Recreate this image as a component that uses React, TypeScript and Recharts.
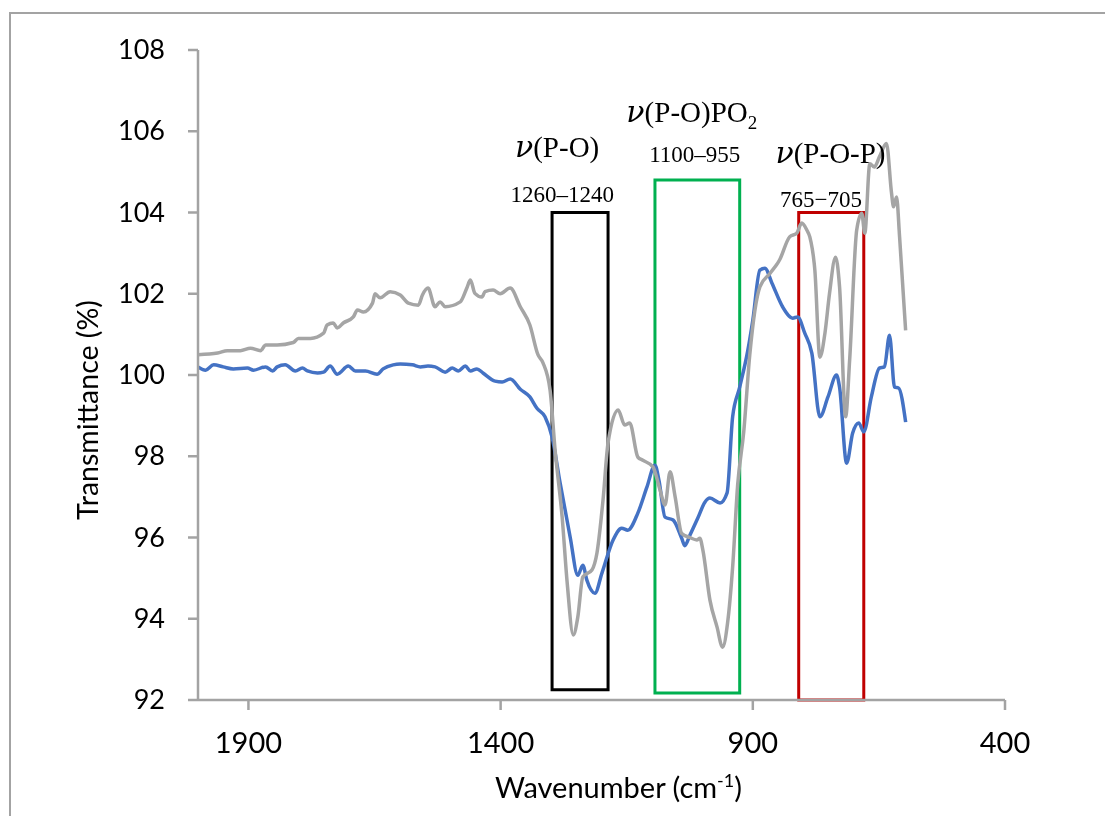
import React from 'react';
import { LineChart, Line, XAxis, YAxis, ReferenceArea, ReferenceDot } from 'recharts';

// Wavenumber (cm-1) and transmittance (%) of the grey spectrum
const grayWavenumber = [
  2000, 1961, 1942, 1916, 1896, 1876, 1866, 1843, 1811, 1801, 1777, 1751, 1744, 1732, 1724, 1712,
  1692, 1684, 1672, 1654, 1649, 1639, 1619, 1599, 1583, 1563, 1555, 1544, 1530, 1520, 1510, 1480,
  1467, 1460, 1451, 1437, 1431, 1415, 1401, 1381, 1361, 1342, 1326, 1316, 1302, 1292, 1278, 1268,
  1256, 1247, 1237, 1219, 1209, 1197, 1187, 1167, 1154, 1144, 1128, 1118, 1098, 1084, 1074, 1064,
  1054, 1041, 1025, 1011, 1005, 999, 985, 971, 960, 950, 940, 930, 918, 906, 886, 866,
  847, 827, 813, 803, 793, 787, 777, 767, 757, 748, 736, 728, 716, 708, 694, 684,
  678, 668, 659, 649, 635, 625, 621, 615, 609, 597,
];
const grayTransmittance = [
  100.5, 100.54, 100.6, 100.6, 100.66, 100.6, 100.74, 100.74, 100.8, 100.9, 100.9, 101.03, 101.23, 101.28, 101.16, 101.28,
  101.43, 101.6, 101.55, 101.77, 102.0, 101.9, 102.05, 101.97, 101.77, 101.72, 101.97, 102.14, 101.68, 101.8, 101.68, 101.8,
  102.14, 102.34, 102.01, 101.92, 102.05, 102.09, 102.0, 102.14, 101.68, 101.23, 100.5, 100.3, 99.63, 98.15, 96.5, 94.88,
  93.6, 94.04, 95.03, 95.2, 95.62, 96.92, 98.33, 99.14, 98.77, 98.82, 97.98, 97.9, 97.74, 97.17, 96.8, 97.62,
  97.0, 96.1, 96.0, 95.94, 95.98, 95.69, 94.46, 93.8, 93.3, 93.9, 95.27, 97.3, 98.6, 100.5, 102.17, 102.5,
  102.83, 103.4, 103.49, 103.74, 103.57, 103.4, 102.58, 100.44, 101.03, 102.0, 102.9, 102.17, 98.97, 100.37, 103.57, 103.98,
  103.49, 105.2, 105.12, 105.37, 105.7, 104.48, 104.14, 104.38, 103.4, 101.1,
];

// Wavenumber (cm-1) and transmittance (%) of the blue spectrum
const blueWavenumber = [
  2000, 1985, 1969, 1950, 1930, 1902, 1890, 1866, 1852, 1843, 1827, 1807, 1793, 1783, 1763, 1751,
  1738, 1724, 1702, 1688, 1668, 1645, 1633, 1613, 1599, 1575, 1559, 1544, 1530, 1510, 1496, 1484,
  1470, 1460, 1447, 1435, 1411, 1397, 1381, 1361, 1342, 1328, 1312, 1298, 1282, 1262, 1247, 1237,
  1229, 1213, 1199, 1177, 1160, 1148, 1128, 1110, 1094, 1086, 1074, 1058, 1041, 1035, 1025, 1009,
  995, 985, 965, 951, 940, 926, 910, 900, 886, 876, 862, 841, 821, 811, 797, 783,
  767, 751, 734, 728, 714, 702, 690, 680, 665, 649, 639, 629, 619, 611, 597,
];
const blueTransmittance = [
  100.2, 100.12, 100.25, 100.2, 100.15, 100.17, 100.12, 100.2, 100.1, 100.2, 100.25, 100.1, 100.17, 100.1, 100.05, 100.07,
  100.22, 100.02, 100.22, 100.1, 100.1, 100.02, 100.15, 100.25, 100.27, 100.25, 100.2, 100.22, 100.2, 100.07, 100.17, 100.1,
  100.22, 100.1, 100.15, 100.05, 99.85, 99.83, 99.9, 99.65, 99.46, 99.18, 98.97, 98.47, 97.34, 96.0, 95.07, 95.32,
  94.95, 94.63, 95.13, 95.94, 96.23, 96.18, 96.6, 97.24, 97.78, 97.4, 96.5, 96.43, 95.98, 95.8, 96.05, 96.48,
  96.87, 96.97, 96.85, 97.1, 98.97, 99.7, 100.6, 101.35, 102.58, 102.63, 102.26, 101.68, 101.4, 101.43, 101.03, 100.54,
  98.97, 99.46, 100.0, 99.7, 97.83, 98.57, 98.82, 98.6, 99.46, 100.17, 100.2, 100.98, 99.7, 99.68, 98.84,
];

const xTicks = [1900, 1400, 900, 400];
const yTicks = [92, 94, 96, 98, 100, 102, 104, 106, 108];

// Band boxes (wavenumber range, transmittance range)
const bandFrom = [1298, 1094, 809];
const bandTo = [1187, 926, 680];
const bandBottom = [92.25, 92.17, 92];
const bandTop = [104, 104.8, 104];
const bandColors = ['#000000', '#00b050', '#c00000'];

// Band annotations
const noteX = [1288, 1278, 1021, 1015, 746, 765];
const noteY = [105.37, 104.26, 106.23, 105.24, 105.22, 104.14];
const noteText = ['(P-O)', '1260–1240', '(P-O)PO', '1100–955', '(P-O-P)', '765−705'];
const noteNu = [true, false, true, false, true, false];
const noteSub = ['', '', '2', '', '', ''];

const grayData = grayWavenumber.map((w, i) => ({ w, t: grayTransmittance[i] }));
const blueData = blueWavenumber.map((w, i) => ({ w, t: blueTransmittance[i] }));

const sansFont = "Lato, 'Open Sans', sans-serif";
const serifFont = "'Liberation Serif', 'Times New Roman', serif";
const nuFont = "'DejaVu Serif', serif";
const axisGray = '#a3a3a3';

const XTick = (props: any) => {
  const { x, y, payload } = props;
  return (
    <text x={x} y={y + 21} textAnchor="middle" fontFamily={sansFont} fontSize={29} fill="#000">
      {payload.value}
    </text>
  );
};

const YTick = (props: any) => {
  const { x, y, payload } = props;
  return (
    <text x={x} y={y} dy={9} textAnchor="end" fontFamily={sansFont} fontSize={27} fill="#000">
      {payload.value}
    </text>
  );
};

const YLabel = (props: any) => {
  const vb = props.viewBox || { x: 0, y: 42, width: 190, height: 650 };
  const cx = vb.x + 79;
  const cy = vb.y + vb.height / 2 + 35;
  return (
    <text
      x={cx}
      y={cy}
      transform={`rotate(-90, ${cx}, ${cy})`}
      textAnchor="middle"
      dominantBaseline="central"
      fontFamily={sansFont}
      fontSize={28.5}
      fill="#000"
    >
      Transmittance (%)
    </text>
  );
};

const XLabel = (props: any) => {
  const vb = props.viewBox || { x: 190, y: 692, width: 807, height: 108 };
  const cx = vb.x + vb.width / 2 + 17;
  const cy = vb.y + 98;
  return (
    <text x={cx} y={cy} textAnchor="middle" fontFamily={sansFont} fontSize={29} fill="#000">
      Wavenumber (cm
      <tspan dy={-11} fontSize={18}>-1</tspan>
      <tspan dy={11}>)</tspan>
    </text>
  );
};

const makeNote = (i: number) => (p: any) => {
  const big = noteNu[i];
  return (
    <text
      x={p.cx}
      y={p.cy}
      textAnchor="middle"
      fontFamily={serifFont}
      fontSize={big ? 29 : 23}
      fill="#000"
    >
      {big ? (
        <tspan fontFamily={nuFont} fontStyle="italic" fontSize={30}>
          ν
        </tspan>
      ) : null}
      {noteText[i]}
      {noteSub[i] ? <tspan dy={7} fontSize={19}>{noteSub[i]}</tspan> : null}
    </text>
  );
};

export default function App() {
  return (
    <div style={{ position: 'relative', width: 1097, height: 800, background: '#fff' }}>
      <div
        style={{
          position: 'fixed',
          left: 9,
          top: 12,
          width: 3000,
          height: 3000,
          borderTop: `2px solid ${axisGray}`,
          borderLeft: `2px solid ${axisGray}`,
          pointerEvents: 'none',
        }}
      />
      <div style={{ position: 'absolute', left: 0, top: 0 }}>
        <LineChart width={1097} height={800} margin={{ top: 42, right: 100, bottom: 0, left: 0 }}>
          <XAxis
            dataKey="w"
            type="number"
            domain={[400, 2000]}
            reversed
            ticks={xTicks}
            interval={0}
            height={108}
            tickSize={10}
            tickMargin={22}
            tick={<XTick />}
            axisLine={{ stroke: axisGray, strokeWidth: 2.5 }}
            tickLine={{ stroke: axisGray, strokeWidth: 2.5 }}
            label={{ content: (p: any) => <XLabel {...p} /> }}
            allowDataOverflow
          />
          <YAxis
            type="number"
            domain={[92, 108]}
            ticks={yTicks}
            interval={0}
            width={190}
            tickSize={10}
            tickMargin={23}
            tick={<YTick />}
            axisLine={{ stroke: axisGray, strokeWidth: 2.5 }}
            tickLine={{ stroke: axisGray, strokeWidth: 2.5 }}
            label={{ content: (p: any) => <YLabel {...p} /> }}
            allowDataOverflow
          />
          <Line
            data={blueData}
            dataKey="t"
            type="monotone"
            stroke="#4472c4"
            strokeWidth={3.5}
            dot={false}
            activeDot={false}
            isAnimationActive={false}
          />
          <Line
            data={grayData}
            dataKey="t"
            type="monotone"
            stroke="#a5a5a5"
            strokeWidth={3.5}
            dot={false}
            activeDot={false}
            isAnimationActive={false}
          />
          {bandFrom.map((x1, i) => (
            <ReferenceArea
              key={`band-${i}`}
              x1={x1}
              x2={bandTo[i]}
              y1={bandBottom[i]}
              y2={bandTop[i]}
              stroke={bandColors[i]}
              strokeWidth={3}
              fill="none"
              fillOpacity={0}
              ifOverflow="visible"
            />
          ))}
          {noteX.map((x, i) => (
            <ReferenceDot
              key={`note-${i}`}
              x={x}
              y={noteY[i]}
              r={0}
              ifOverflow="visible"
              shape={makeNote(i)}
            />
          ))}
        </LineChart>
      </div>
    </div>
  );
}
